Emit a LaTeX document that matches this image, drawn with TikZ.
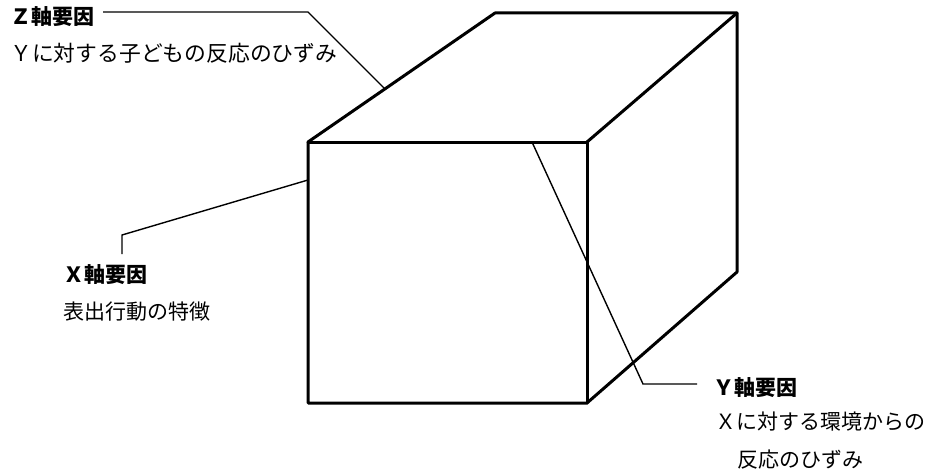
\documentclass[tikz,border=0pt]{standalone}
\usepackage{fontspec}
\newfontfamily\jp{Noto Sans CJK JP}
\begin{document}
\begin{tikzpicture}[x=1pt,y=-1pt,
  cube/.style={line width=3pt,line join=round,line cap=round},
  leader/.style={line width=1.4pt,line join=miter},
  lbl/.style={anchor=west,inner sep=0pt,text height=0.84em,text depth=0.08em,font=\jp\fontsize{21pt}{21pt}\selectfont},
  head/.style={lbl,font=\jp\bfseries\fontsize{21pt}{21pt}\selectfont}]
\useasboundingbox (0,0) rectangle (947,476);
% cube corners
\coordinate (ftl) at (308,142);
\coordinate (ftr) at (587,142);
\coordinate (fbr) at (587,403);
\coordinate (fbl) at (308,403);
\coordinate (btl) at (495,13);
\coordinate (btr) at (737,13);
\coordinate (bbr) at (737,272);
\draw[cube] (ftl) -- (btl) -- (btr) -- (bbr) -- (fbr) -- (fbl) -- cycle;
\draw[cube] (ftl) -- (ftr) -- (fbr);
\draw[cube] (ftr) -- (btr);
% labels
\node[head] (zh) at (10,21) {Ｚ軸要因};
\node[lbl,font=\jp\fontsize{21.8pt}{21.8pt}\selectfont] (zt) at (10,58) {Ｙに対する子どもの反応のひずみ};
\node[head] (xh) at (63,279) {Ｘ軸要因};
\node[lbl] (xt) at (63,316) {表出行動の特徴};
\node[head] (yh) at (713,392) {Ｙ軸要因};
\node[lbl] (yt1) at (715,426) {Ｘに対する環境からの};
\node[lbl] (yt2) at (737,464) {反応のひずみ};
% leaders
\coordinate (zs) at (103,12);
\coordinate (zb) at (308,12);
\coordinate (ze) at (385,89);
\draw[leader] (zs) -- (zb) -- (ze);
\coordinate (xs) at (122,254);
\coordinate (xb) at (122,235);
\coordinate (xe) at (308,180);
\draw[leader] (xs) -- (xb) -- (xe);
\coordinate (ys) at (532,142);
\coordinate (yb) at (643,384);
\coordinate (ye) at (697,384);
\draw[leader] (ys) -- (yb) -- (ye);
\end{tikzpicture}
\end{document}
